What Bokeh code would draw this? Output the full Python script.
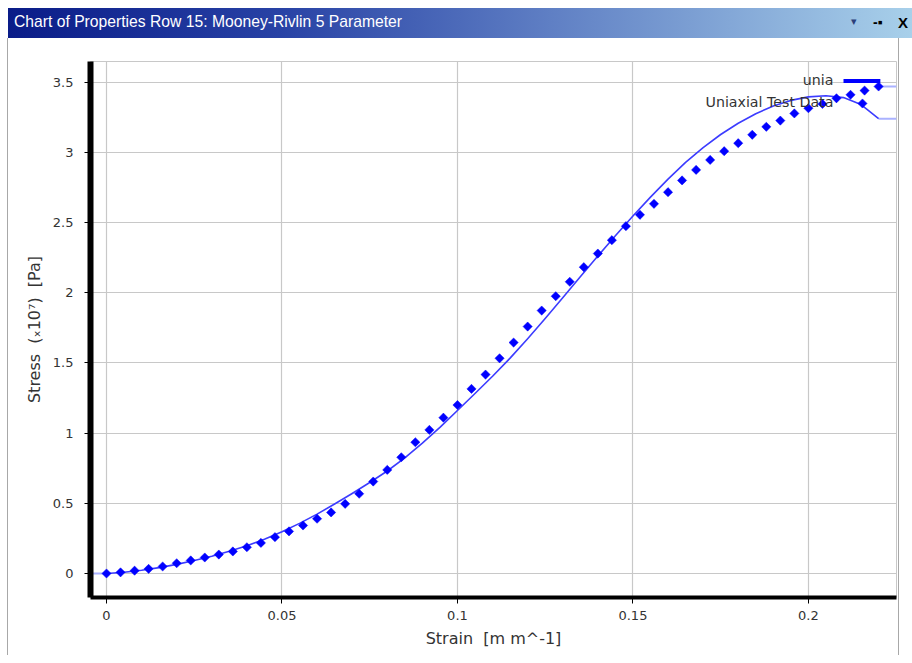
import numpy as np
from bokeh.plotting import figure
from bokeh.models import FixedTicker, NumeralTickFormatter, Div, Label, Range1d
from bokeh.layouts import column
from bokeh.embed import file_html
from bokeh.resources import INLINE

# ---------------- data ----------------
title_text = "Chart of Properties Row 15: Mooney-Rivlin 5 Parameter"
x_label = "Strain\u00a0\u00a0[m m^-1]"
y_label = "Stress\u00a0\u00a0(\u209310\u2077)\u00a0\u00a0[Pa]"
legend_labels = ["unia", "Uniaxial Test Data"]

test_strain = [0.000, 0.004, 0.008, 0.012, 0.016, 0.020, 0.024, 0.028, 0.032, 0.036,
               0.040, 0.044, 0.048, 0.052, 0.056, 0.060, 0.064, 0.068, 0.072, 0.076,
               0.080, 0.084, 0.088, 0.092, 0.096, 0.100, 0.104, 0.108, 0.112, 0.116,
               0.120, 0.124, 0.128, 0.132, 0.136, 0.140, 0.144, 0.148, 0.152, 0.156,
               0.160, 0.164, 0.168, 0.172, 0.176, 0.180, 0.184, 0.188, 0.192, 0.196,
               0.200, 0.204, 0.208, 0.212, 0.216, 0.220]
test_stress = [0.000, 0.008, 0.020, 0.033, 0.050, 0.073, 0.093, 0.114, 0.135, 0.157,
               0.187, 0.218, 0.259, 0.300, 0.342, 0.390, 0.435, 0.496, 0.568, 0.655,
               0.738, 0.828, 0.935, 1.023, 1.110, 1.200, 1.315, 1.417, 1.533, 1.645,
               1.759, 1.873, 1.975, 2.078, 2.182, 2.279, 2.374, 2.474, 2.555, 2.633,
               2.716, 2.800, 2.875, 2.946, 3.008, 3.065, 3.125, 3.182, 3.226, 3.277,
               3.314, 3.345, 3.385, 3.410, 3.440, 3.469]

fit_strain = [0.000, 0.005, 0.010, 0.015, 0.020, 0.025, 0.030, 0.035, 0.040, 0.045,
              0.050, 0.055, 0.060, 0.065, 0.070, 0.075, 0.080, 0.085, 0.090, 0.095,
              0.100, 0.105, 0.110, 0.115, 0.120, 0.125, 0.130, 0.135, 0.140, 0.145,
              0.150, 0.155, 0.160, 0.165, 0.170, 0.175, 0.180, 0.185, 0.190, 0.195,
              0.200, 0.205, 0.210, 0.215, 0.220]
fit_stress = [0.000, 0.009, 0.023, 0.042, 0.065, 0.092, 0.123, 0.158, 0.198, 0.244,
              0.297, 0.357, 0.423, 0.495, 0.570, 0.648, 0.730, 0.823, 0.928, 1.041,
              1.161, 1.282, 1.405, 1.534, 1.672, 1.816, 1.964, 2.113, 2.261, 2.406,
              2.546, 2.681, 2.809, 2.929, 3.034, 3.127, 3.207, 3.275, 3.330, 3.370,
              3.395, 3.403, 3.390, 3.340, 3.240]

x_ticks = [0.0, 0.05, 0.1, 0.15, 0.2]
x_tick_labels = ["0", "0.05", "0.1", "0.15", "0.2"]
y_ticks = [0.0, 0.5, 1.0, 1.5, 2.0, 2.5, 3.0, 3.5]
y_tick_labels = ["0", "0.5", "1", "1.5", "2", "2.5", "3", "3.5"]

# ---------------- layout constants ----------------
X_RANGE = (-0.00456, 0.2251)
Y_RANGE = (-0.171, 3.647)
BLUE = "#0000ff"
FIT = "#3c3cff"
LIGHT = "#aab2ff"
GRID = "#c8c8c8"
TXT = "#333333"

p = figure(width=890, height=617,
           x_range=Range1d(*X_RANGE), y_range=Range1d(*Y_RANGE),
           output_backend="svg", toolbar_location=None,
           min_border_left=82, min_border_right=2,
           min_border_top=23, min_border_bottom=58,
           margin=(0, 0, 0, 8),
           styles={"box-shadow": "-1px 0 0 0 #a8a8a8, 1px 0 0 0 #a8a8a8"})
p.background_fill_color = "white"
p.border_fill_color = "white"
p.outline_line_color = GRID
p.outline_line_width = 1

# axes
for ax, ticks, labels in ((p.xaxis[0], x_ticks, x_tick_labels), (p.yaxis[0], y_ticks, y_tick_labels)):
    ax.ticker = FixedTicker(ticks=ticks)
    ax.formatter = NumeralTickFormatter(format="0.[00]")
    ax.major_label_overrides = dict(zip(ticks, labels))
    ax.minor_tick_line_color = None
    ax.major_tick_in = 0
    ax.major_tick_out = 6
    ax.major_tick_line_color = "black"
    ax.major_tick_line_width = 1
    ax.axis_line_color = "black"
    ax.major_label_text_font = "DejaVu Sans"
    ax.major_label_text_font_size = "13px"
    ax.major_label_text_color = TXT
    ax.axis_label_text_font = "DejaVu Sans"
    ax.axis_label_text_font_size = "16px"
    ax.axis_label_text_font_style = "normal"
    ax.axis_label_text_color = TXT

p.xaxis.axis_label = x_label
p.yaxis.axis_label = y_label
p.yaxis.axis_line_width = 6
p.xaxis.axis_line_width = 4
p.yaxis.major_label_standoff = 11
p.xaxis.major_label_standoff = 7
p.yaxis.axis_label_standoff = 6
p.xaxis.axis_label_standoff = 6

p.xgrid.ticker = FixedTicker(ticks=x_ticks)
p.ygrid.ticker = FixedTicker(ticks=y_ticks)
p.xgrid.grid_line_color = GRID
p.ygrid.grid_line_color = GRID
p.xgrid.grid_line_width = 1.2
p.ygrid.grid_line_width = 1.2

# light extensions of the series to the edges of the plot
p.line([X_RANGE[0], test_strain[0]], [test_stress[0], test_stress[0]], line_color=LIGHT, line_width=2)
p.line([test_strain[-1], X_RANGE[1]], [test_stress[-1], test_stress[-1]], line_color=LIGHT, line_width=2)
p.line([fit_strain[-1], X_RANGE[1]], [fit_stress[-1], fit_stress[-1]], line_color=LIGHT, line_width=2)

# fitted curve
p.line(fit_strain, fit_stress, line_color=FIT, line_width=1.6, line_join="round")

# test data
p.scatter(test_strain, test_stress, marker="square", angle=np.pi / 4, size=6.5,
          fill_color=BLUE, line_color=BLUE, line_width=0.5)

# legend (drawn by hand: label left of glyph)
LEG_TX = 0.2071
LEG_Y1 = 3.518
LEG_Y2 = 3.362
p.segment(x0=[0.2100], y0=[3.508], x1=[0.2205], y1=[3.508], line_color=BLUE, line_width=4)
p.scatter([0.2154], [3.348], marker="square", angle=np.pi / 4, size=6.5,
          fill_color=BLUE, line_color=BLUE, line_width=0.5)
for lab, ly in zip(legend_labels, (LEG_Y1, LEG_Y2)):
    p.add_layout(Label(x=LEG_TX, y=ly, text=lab, text_align="right", text_baseline="middle",
                       text_font="DejaVu Sans", text_font_size="14.2px", text_color=TXT))

# title bar
bar_html = (
    '<div style="position:relative;width:904px;height:30px;'
    'background:linear-gradient(to right,#0a1c88 0%,#2842a5 30%,#5f7fc4 60%,#a8d0ea 100%);'
    'font-family:\'Liberation Sans\',Arial,sans-serif;">'
    '<span style="position:absolute;left:6px;top:3px;font-size:15.7px;color:white;white-space:nowrap;">'
    + title_text +
    '</span>'
    '<span style="position:absolute;left:843px;top:6px;font-size:11px;color:#2b3f7a;">\u25BE</span>'
    '<span style="position:absolute;left:865px;top:4px;font-size:14px;color:black;font-weight:bold;">-\u25AA</span>'
    '<span style="position:absolute;left:890px;top:4px;font-size:15px;color:black;font-weight:bold;">X</span>'
    '</div>'
)
header = Div(text=bar_html, width=904, height=30, margin=(8, 0, 0, 8))

layout = column(header, p, margin=0)
open("out.html", "w").write(file_html(layout, INLINE))
